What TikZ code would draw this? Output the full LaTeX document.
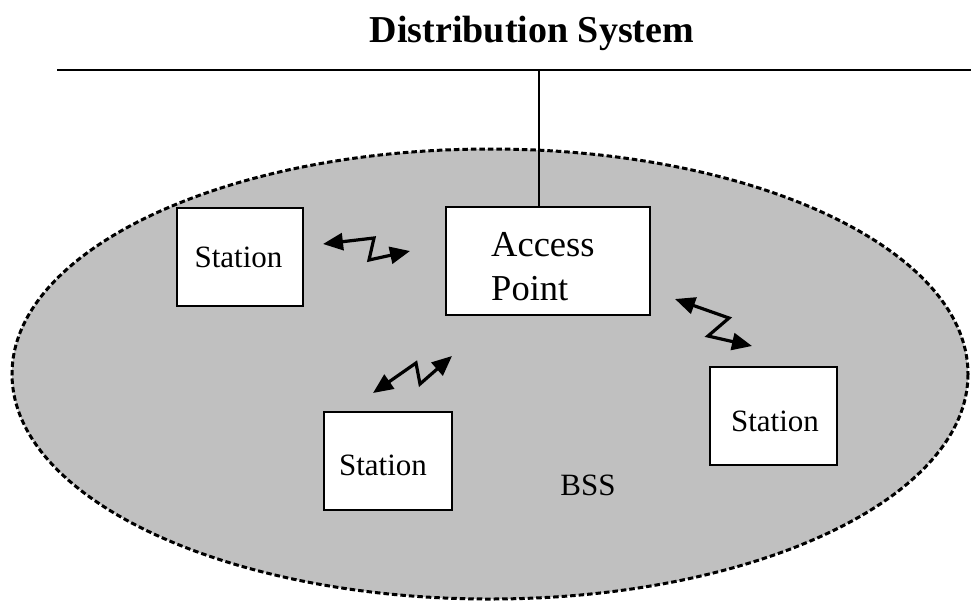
\documentclass[tikz,border=0pt]{standalone}
\usepackage{fontspec}
\setmainfont{Liberation Serif}
\usetikzlibrary{arrows.meta}
\definecolor{bssgray}{RGB}{192,192,192}
\tikzset{
  box/.style={draw=black, line width=1.8pt, fill=white, inner sep=0pt},
  label/.style={inner sep=0pt, anchor=base, font=\fontsize{31}{37}\selectfont},
  aplabel/.style={inner sep=0pt, anchor=base west, font=\fontsize{36.5}{44}\selectfont},
  radio/.style={line width=3.2pt, line join=miter,
    {Triangle[length=20pt,width=17pt]}-{Triangle[length=20pt,width=17pt]}},
}
\begin{document}
\begin{tikzpicture}[x=1pt,y=-1pt]
\useasboundingbox (0,0) rectangle (971,603);

% basic service set area
\draw[fill=bssgray, line width=3pt, dash pattern=on 5.5pt off 3pt]
  (490,374) ellipse [x radius=478, y radius=225];

% distribution system
\node[inner sep=0pt, anchor=base, font=\fontsize{38}{44}\selectfont\bfseries]
  (title) at (532,42) {Distribution System};
\coordinate (dsl) at (57,70);
\coordinate (dsr) at (971,70);
\coordinate (tap) at (539,70);
\draw[line width=2pt] (dsl) -- (dsr);

% access point and stations
\node[box, minimum width=204pt, minimum height=108pt] (ap) at (548,261) {};
\node[aplabel] (aptxt1) at (491,256) {Access};
\node[aplabel] (aptxt2) at (491,300) {Point};
\draw[line width=1.3pt] (tap) -- (tap |- ap.north);

\node[box, minimum width=126pt, minimum height=98pt] (st1) at (240,257) {};
\node[label] (st1txt) at (238.5,267) {Station};

\node[box, minimum width=128pt, minimum height=98pt] (st2) at (388,461) {};
\node[label] (st2txt) at (383,475) {Station};

\node[box, minimum width=127pt, minimum height=98pt] (st3) at (773.5,416) {};
\node[label] (st3txt) at (775,431) {Station};

\node[label] (bss) at (588,495) {BSS};

% radio links
\coordinate (a1s) at (323,244);
\coordinate (a1b) at (374,238);
\coordinate (a1c) at (369,260);
\coordinate (a1e) at (410,251);
\draw[radio] (a1s) -- (a1b) -- (a1c) -- (a1e);

\coordinate (a2s) at (373,393);
\coordinate (a2b) at (416,363);
\coordinate (a2c) at (420,384);
\coordinate (a2e) at (452,356);
\draw[radio] (a2s) -- (a2b) -- (a2c) -- (a2e);

\coordinate (a3s) at (675,299);
\coordinate (a3b) at (729,318);
\coordinate (a3c) at (708,336);
\coordinate (a3e) at (752,346);
\draw[radio] (a3s) -- (a3b) -- (a3c) -- (a3e);
\end{tikzpicture}
\end{document}
